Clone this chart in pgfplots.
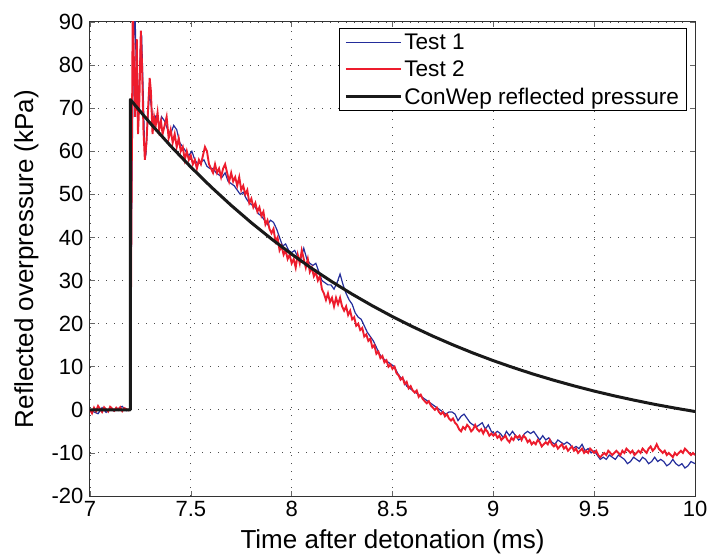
\documentclass[border=0pt]{standalone}
\usepackage{fontspec}
\setmainfont{Liberation Sans}
\usepackage{pgfplots}
\pgfplotsset{compat=1.18}
\definecolor{tblue}{RGB}{35,45,155}
\definecolor{tred}{RGB}{237,28,45}
\begin{document}
\begin{tikzpicture}
\begin{axis}[
  scale only axis, width=605pt, height=474pt,
  xmin=7, xmax=10, ymin=-20, ymax=90,
  xtick={7,7.5,8,8.5,9,9.5,10},
  xticklabels={7,7.5,8,8.5,9,9.5,10},
  ytick={-20,-10,0,10,20,30,40,50,60,70,80,90},
  yticklabels={-20,-10,0,10,20,30,40,50,60,70,80,90},
  tick align=inside, major tick length=5pt,
  tick style={black!60, line width=0.6pt},
  axis line style={black!80, line width=1pt},
  grid=major,
  major grid style={black!70, line width=0.9pt, dash pattern=on 1pt off 7pt},
  ticklabel style={font=\fontsize{22}{26}\selectfont},
  yticklabel style={xshift=-3pt},
  xticklabel style={yshift=-2pt},
  xlabel={Time after detonation (ms)},
  ylabel={Reflected overpressure (kPa)},
  label style={font=\fontsize{26}{30}\selectfont},
  xlabel style={at={(axis description cs:0.5,-0.097)},anchor=center},
  ylabel style={at={(axis description cs:-0.105,0.5)},anchor=center},
  legend style={at={(rel axis cs:0.986,0.987)}, anchor=north east,
    draw=black, line width=1pt, fill=white,
    font=\fontsize{22.6}{26}\selectfont, row sep=6pt,
    inner xsep=5pt, inner ysep=3pt},
  legend cell align=left,
  legend image code/.code={\draw[#1] (0pt,0pt) -- (55pt,0pt);},
]
\addplot[tblue, line width=1.2pt] coordinates {
(7.00,0) (7.02,-0.5) (7.04,-0.9) (7.06,0.5) (7.08,-0.6) (7.10,0.2) (7.12,-0.3) (7.14,0.3) (7.16,0.8) (7.18,-0.2) (7.20,0.2)
(7.207,50) (7.215,82) (7.222,95) (7.23,78) (7.237,66) (7.243,74) (7.25,84) (7.256,87) (7.263,75) (7.27,62) (7.278,60) (7.285,66) (7.295,74)
(7.305,70) (7.315,66) (7.325,68) (7.335,67) (7.345,66) (7.355,68) (7.37,67) (7.385,65) (7.40,64) (7.415,66) (7.43,65) (7.445,62) (7.46,61)
(7.475,60) (7.49,59) (7.505,60) (7.52,58) (7.535,57) (7.55,57.5) (7.565,58) (7.58,56.5) (7.595,56) (7.61,56) (7.625,55) (7.64,54.5)
(7.655,54) (7.67,55) (7.685,53) (7.70,52.5) (7.715,52) (7.73,51) (7.745,50) (7.76,50.5) (7.775,49) (7.79,48) (7.805,47.5) (7.82,47)
(7.835,45.5) (7.85,45) (7.865,44) (7.88,43) (7.895,44) (7.91,43.5) (7.925,42) (7.94,40) (7.955,38) (7.97,38.5) (7.985,37) (8.00,36.5)
(8.015,37) (8.03,35.5) (8.045,35) (8.06,37.5) (8.075,35) (8.09,34) (8.105,33.5) (8.12,34) (8.135,32) (8.15,30) (8.165,29.5) (8.18,29)
(8.195,29) (8.21,28) (8.225,29.5) (8.24,31.5) (8.255,29) (8.27,27) (8.285,25.5) (8.30,24.5) (8.315,22.5) (8.33,21.5) (8.345,21) (8.36,19.5)
(8.375,18) (8.39,17) (8.405,16) (8.42,14.5) (8.435,13) (8.45,12) (8.465,11.5) (8.48,11) (8.495,10.5) (8.51,10) (8.525,8.5) (8.54,7.5)
(8.555,7) (8.57,5.5) (8.585,5) (8.60,4.5) (8.615,4) (8.63,3.5) (8.645,3) (8.66,2.5) (8.675,2) (8.69,1.5) (8.705,1) (8.72,0.5) (8.735,0)
(8.75,-0.5) (8.765,-1) (8.78,-0.5) (8.795,-0.5) (8.81,-1) (8.825,-2.5) (8.84,-1.5) (8.855,-1) (8.87,-2) (8.885,-3) (8.90,-3.5) (8.915,-4)
(8.93,-3.5) (8.945,-3) (8.96,-4.5) (8.975,-3.5) (8.99,-5) (9.005,-5.5) (9.02,-5) (9.035,-5.5) (9.05,-6.5) (9.065,-5) (9.08,-6) (9.095,-5)
(9.11,-6) (9.125,-7) (9.14,-6.5) (9.155,-5.5) (9.17,-5) (9.185,-5.5) (9.20,-5) (9.215,-6) (9.23,-7) (9.245,-6) (9.26,-7) (9.275,-6.5)
(9.29,-7.5) (9.305,-8) (9.32,-7) (9.335,-7.5) (9.35,-8) (9.365,-7.5) (9.38,-8) (9.395,-9) (9.41,-8.5) (9.425,-9) (9.44,-8) (9.455,-9.5)
(9.47,-9) (9.485,-10) (9.50,-9.5) (9.515,-10.5) (9.53,-11.5) (9.545,-11) (9.56,-11.5) (9.575,-10.5) (9.59,-11) (9.605,-11.5) (9.62,-10.5)
(9.635,-11) (9.65,-11.5) (9.665,-12.5) (9.68,-12) (9.695,-11) (9.71,-11.5) (9.725,-12) (9.74,-11) (9.755,-11.5) (9.77,-12.5) (9.785,-12)
(9.80,-11) (9.815,-12) (9.83,-11.5) (9.845,-12) (9.86,-13) (9.875,-12.5) (9.89,-11.5) (9.905,-12.5) (9.92,-13) (9.935,-12.5) (9.95,-13.5)
(9.965,-13) (9.98,-12) (10.00,-12.5)
};
\addlegendentry{Test 1}
\addplot[tred, line width=1.9pt] coordinates {
(7.00,0) (7.01,-0.8) (7.02,0.5) (7.03,-0.3) (7.04,0.9) (7.05,0.2) (7.06,-0.5) (7.07,0.6) (7.08,0.1) (7.09,-0.4) (7.10,0.7) (7.11,0.3)
(7.12,-0.2) (7.13,0.5) (7.14,0.0) (7.15,0.6) (7.16,-0.3) (7.17,0.4) (7.18,0.2) (7.19,-0.1) (7.20,0.3)
(7.205,40) (7.212,95) (7.218,80) (7.224,68) (7.232,86) (7.238,64) (7.245,72) (7.252,88) (7.258,80) (7.265,65) (7.272,58) (7.28,62)
(7.288,70) (7.296,77) (7.302,74) (7.31,64) (7.318,68) (7.326,66) (7.335,69) (7.343,65) (7.352,67) (7.36,64) (7.37,66) (7.38,68)
(7.39,63) (7.40,65) (7.41,62) (7.42,64) (7.43,61) (7.44,63) (7.45,60) (7.46,61) (7.47,58) (7.48,60) (7.49,58) (7.50,59) (7.51,57)
(7.52,58) (7.53,56) (7.54,58) (7.55,57) (7.56,59) (7.57,61) (7.58,60) (7.59,57) (7.60,56) (7.61,55) (7.62,57) (7.63,55) (7.64,56)
(7.65,54) (7.66,56) (7.67,57) (7.68,55) (7.69,53) (7.70,55) (7.71,53) (7.72,54) (7.73,52) (7.74,54) (7.75,51) (7.76,52) (7.77,50)
(7.78,51) (7.79,48) (7.80,49) (7.81,47) (7.82,48) (7.83,46) (7.84,47) (7.85,45) (7.86,46) (7.87,43) (7.88,44) (7.89,42) (7.90,41)
(7.91,42) (7.92,39) (7.93,40) (7.94,37) (7.95,38) (7.96,36) (7.97,37) (7.98,35) (7.99,36) (8.00,34) (8.01,35) (8.02,33) (8.03,36)
(8.04,34) (8.05,37) (8.06,35) (8.07,33) (8.08,35) (8.09,32) (8.10,33) (8.11,31) (8.12,32) (8.13,30) (8.14,31) (8.15,28) (8.16,27)
(8.17,25.5) (8.18,27) (8.19,25) (8.20,26) (8.21,24) (8.22,26) (8.23,24.5) (8.24,26) (8.25,24) (8.26,23) (8.27,24) (8.28,22) (8.29,23)
(8.30,21) (8.31,21.5) (8.32,19.5) (8.33,20) (8.34,18.5) (8.35,19) (8.36,17) (8.37,17.5) (8.38,16) (8.39,16.5) (8.40,14.5) (8.41,15)
(8.42,13) (8.43,13.5) (8.44,12) (8.45,12.5) (8.46,11) (8.47,11.5) (8.48,10) (8.49,10.5) (8.50,9.5) (8.51,10) (8.52,8.5) (8.53,8)
(8.54,7) (8.55,7.5) (8.56,6) (8.57,6.5) (8.58,5) (8.59,5.5) (8.60,4.5) (8.61,4) (8.62,4.5) (8.63,3) (8.64,3.5) (8.65,2.5) (8.66,2)
(8.67,1.5) (8.68,2) (8.69,1) (8.70,0.5) (8.71,0) (8.72,0.5) (8.73,-0.5) (8.74,-1) (8.75,-0.5) (8.76,-1.5) (8.77,-1) (8.78,-2)
(8.79,-2.5) (8.80,-2) (8.81,-3) (8.82,-3.5) (8.83,-4.5) (8.84,-5) (8.85,-4) (8.86,-4.5) (8.87,-3.5) (8.88,-4) (8.89,-5) (8.90,-4.5)
(8.91,-3.5) (8.92,-4.5) (8.93,-5) (8.94,-4.5) (8.95,-5.5) (8.96,-4.5) (8.97,-5) (8.98,-6) (8.99,-5.5) (9.00,-6) (9.01,-5.5) (9.02,-6.5)
(9.03,-6) (9.04,-7) (9.05,-6.5) (9.06,-6) (9.07,-7) (9.08,-7.5) (9.09,-6.5) (9.10,-7) (9.11,-6) (9.12,-6.5) (9.13,-6) (9.14,-7)
(9.15,-6) (9.16,-6.5) (9.17,-7.5) (9.18,-7) (9.19,-8) (9.20,-7.5) (9.21,-8) (9.22,-7) (9.23,-7.5) (9.24,-8.5) (9.25,-8) (9.26,-7.5)
(9.27,-8) (9.28,-7) (9.29,-8) (9.30,-8.5) (9.31,-8) (9.32,-9) (9.33,-8.5) (9.34,-8) (9.35,-9) (9.36,-8.5) (9.37,-9.5) (9.38,-9)
(9.39,-8.5) (9.40,-9.5) (9.41,-9) (9.42,-10) (9.43,-9.5) (9.44,-9) (9.45,-10) (9.46,-9.5) (9.47,-10) (9.48,-9) (9.49,-9.5) (9.50,-10)
(9.51,-9.5) (9.52,-10.5) (9.53,-11) (9.54,-10.5) (9.55,-10) (9.56,-10.5) (9.57,-9.5) (9.58,-10) (9.59,-10.5) (9.60,-10) (9.61,-9.5)
(9.62,-10) (9.63,-10.5) (9.64,-9.5) (9.65,-10) (9.66,-9) (9.67,-9.5) (9.68,-10) (9.69,-9.5) (9.70,-10.5) (9.71,-10) (9.72,-9.5)
(9.73,-10) (9.74,-9) (9.75,-9.5) (9.76,-10) (9.77,-9) (9.78,-8.5) (9.79,-9.5) (9.80,-9) (9.81,-8) (9.82,-9) (9.83,-9.5) (9.84,-10)
(9.85,-9.5) (9.86,-10.5) (9.87,-10) (9.88,-10.5) (9.89,-11) (9.90,-10) (9.91,-10.5) (9.92,-10) (9.93,-9.5) (9.94,-10) (9.95,-9)
(9.96,-9.5) (9.97,-10) (9.98,-10.5) (9.99,-10) (10.00,-10.5)
};
\addlegendentry{Test 2}
\addplot[black!90, line width=3pt, line join=round] coordinates {
(7.0,0) (7.2,0) (7.2,72) (7.3,66.44) (7.4,61.23) (7.5,56.34) (7.6,51.75) (7.7,47.45) (7.8,43.42) (7.9,39.65) (8.0,36.12)
(8.1,32.81) (8.2,29.72) (8.3,26.84) (8.4,24.15) (8.5,21.63) (8.6,19.29) (8.7,17.10) (8.8,15.07) (8.9,13.17) (9.0,11.41)
(9.1,9.78) (9.2,8.26) (9.3,6.86) (9.4,5.56) (9.5,4.35) (9.6,3.24) (9.7,2.22) (9.8,1.27) (9.9,0.41) (10.0,-0.39)
};
\addlegendentry{ConWep reflected pressure}
\end{axis}
\pgfresetboundingbox
\path[use as bounding box] (-90pt,-61pt) rectangle (618pt,496pt);
\end{tikzpicture}
\end{document}
